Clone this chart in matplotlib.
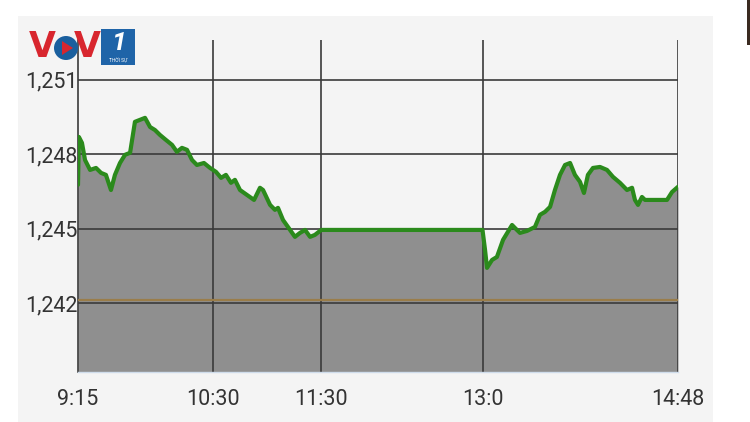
import matplotlib.pyplot as plt
from matplotlib.patches import Rectangle, Ellipse, Polygon

plt.rcParams['font.family'] = ['Roboto', 'DejaVu Sans']

# minutes since 9:15 and index value
minutes = [0, 0.5, 2.2, 3.9, 6.7, 10.0, 12.8, 15.5, 18.3, 20.5, 23.3, 26.1, 28.9,
           31.6, 34.4, 37.2, 40.0, 42.7, 45.5, 48.8, 52.2, 54.9, 57.7, 60.5, 63.3,
           66.0, 69.9, 73.3, 76.6, 79.4, 82.1, 84.9, 87.1, 89.9, 93.8, 97.7, 101.0,
           102.7, 106.6, 109.3, 111.0, 113.8, 117.7, 120.4, 123.2, 126.0, 128.8,
           131.5, 135.0, 224.5, 225.9, 227.0, 229.8, 232.5, 235.9, 240.9, 242.5,
           245.3, 249.2, 253.6, 256.4, 259.2, 262.0, 264.7, 267.5, 270.3, 273.1,
           275.8, 278.6, 280.8, 283.0, 285.8, 289.7, 293.6, 296.9, 300.8, 304.7,
           307.5, 309.1, 310.8, 313.0, 314.7, 326.9, 329.7, 333.0]
index = [1246.77, 1248.70, 1248.46, 1247.77, 1247.37, 1247.45, 1247.25, 1247.17,
         1246.56, 1247.17, 1247.65, 1247.98, 1248.06, 1249.31, 1249.39, 1249.47,
         1249.10, 1248.98, 1248.78, 1248.58, 1248.38, 1248.10, 1248.26, 1248.18,
         1247.77, 1247.57, 1247.65, 1247.45, 1247.29, 1247.05, 1247.17, 1246.85,
         1246.97, 1246.56, 1246.36, 1246.16, 1246.65, 1246.56, 1245.96, 1245.76,
         1245.84, 1245.35, 1244.95, 1244.67, 1244.83, 1244.95, 1244.67, 1244.75,
         1244.95, 1244.95, 1244.15, 1243.42, 1243.74, 1243.86, 1244.55, 1245.15,
         1245.03, 1244.83, 1244.91, 1245.07, 1245.56, 1245.68, 1245.88, 1246.56,
         1247.17, 1247.57, 1247.65, 1247.17, 1246.89, 1246.44, 1247.17, 1247.45,
         1247.49, 1247.37, 1247.09, 1246.85, 1246.56, 1246.65, 1246.16, 1245.96,
         1246.28, 1246.16, 1246.16, 1246.48, 1246.69]
ref_price = 1242.12

x_ticks = [0, 75, 135, 225, 333]
x_labels = ['9:15', '10:30', '11:30', '13:0', '14:48']
y_ticks = [1242, 1245, 1248, 1251]
y_labels = ['1,242', '1,245', '1,248', '1,251']

fig = plt.figure(figsize=(7.5, 4.22), dpi=100)
fig.patch.set_facecolor('white')
fig.patches.append(Rectangle((18/750, 0), 695/750, 1 - 16/422, transform=fig.transFigure,
                             facecolor='#f4f4f4', edgecolor='none', zorder=-5))
fig.patches.append(Rectangle((747/750, 1 - 45/422), 3/750, 45/422, transform=fig.transFigure,
                             facecolor='#3a2a20', edgecolor='none', zorder=-5))

ax = fig.add_axes([78/750, 50/422, 600/750, 332/422])
ax.set_facecolor('none')
ax.set_xlim(0, 333)
ax.set_ylim(1239.22, 1252.61)

ax.fill_between(minutes, index, 1239.22, color='#8f8f8f', linewidth=0, zorder=1)

for y in y_ticks:
    ax.axhline(y, color='#3a3a3a', linewidth=1.2, zorder=2)
for x in x_ticks[1:]:
    ax.axvline(x, color='#3a3a3a', linewidth=1.2, zorder=2)

ax.axhline(ref_price, color='#9a7d4a', linewidth=1.6, zorder=3)
ax.plot(minutes, index, color='#2b8a1c', linewidth=3.0, solid_joinstyle='round',
        solid_capstyle='round', zorder=4)

for s in ['top', 'right']:
    ax.spines[s].set_visible(False)
ax.spines['left'].set_color('#3a3a3a')
ax.spines['left'].set_linewidth(1.2)
ax.spines['bottom'].set_color('#cfdceb')
ax.spines['bottom'].set_linewidth(1.0)

ax.set_xticks(x_ticks)
ax.set_xticklabels(x_labels)
ax.set_yticks(y_ticks)
ax.set_yticklabels(y_labels)
ax.tick_params(axis='both', length=0, labelsize=15.5, colors='#333333')
ax.tick_params(axis='x', pad=12)
ax.tick_params(axis='y', pad=0)

# VOV1 logo
fig.text(29/750, 1 - 47/422, 'V', color='#d8262e', fontsize=25, fontweight='bold',
         va='center', ha='left', family='DejaVu Sans', zorder=6)
fig.patches.append(Ellipse((66/750, 1 - 48/422), 24/750, 24/422, transform=fig.transFigure,
                           facecolor='#1a5f9e', edgecolor='none', zorder=5))
fig.patches.append(Polygon([(62/750, 1 - 41/422), (62/750, 1 - 55/422), (73/750, 1 - 48/422)],
                           transform=fig.transFigure, facecolor='#d8262e', edgecolor='none', zorder=6))
fig.text(74/750, 1 - 47/422, 'V', color='#d8262e', fontsize=25, fontweight='bold',
         va='center', ha='left', family='DejaVu Sans', zorder=6)
fig.patches.append(Rectangle((101/750, 1 - 65/422), 34/750, 36/422, transform=fig.transFigure,
                             facecolor='#1f64a8', edgecolor='none', zorder=5))
fig.text(118/750, 1 - 43/422, '1', color='white', fontsize=19, fontweight='bold',
         fontstyle='italic', ha='center', va='center', zorder=7)
fig.text(118/750, 1 - 59/422, 'THỜI SỰ', color='white', fontsize=3.5, ha='center',
         va='center', zorder=7)

plt.savefig('out.png', dpi=100)
